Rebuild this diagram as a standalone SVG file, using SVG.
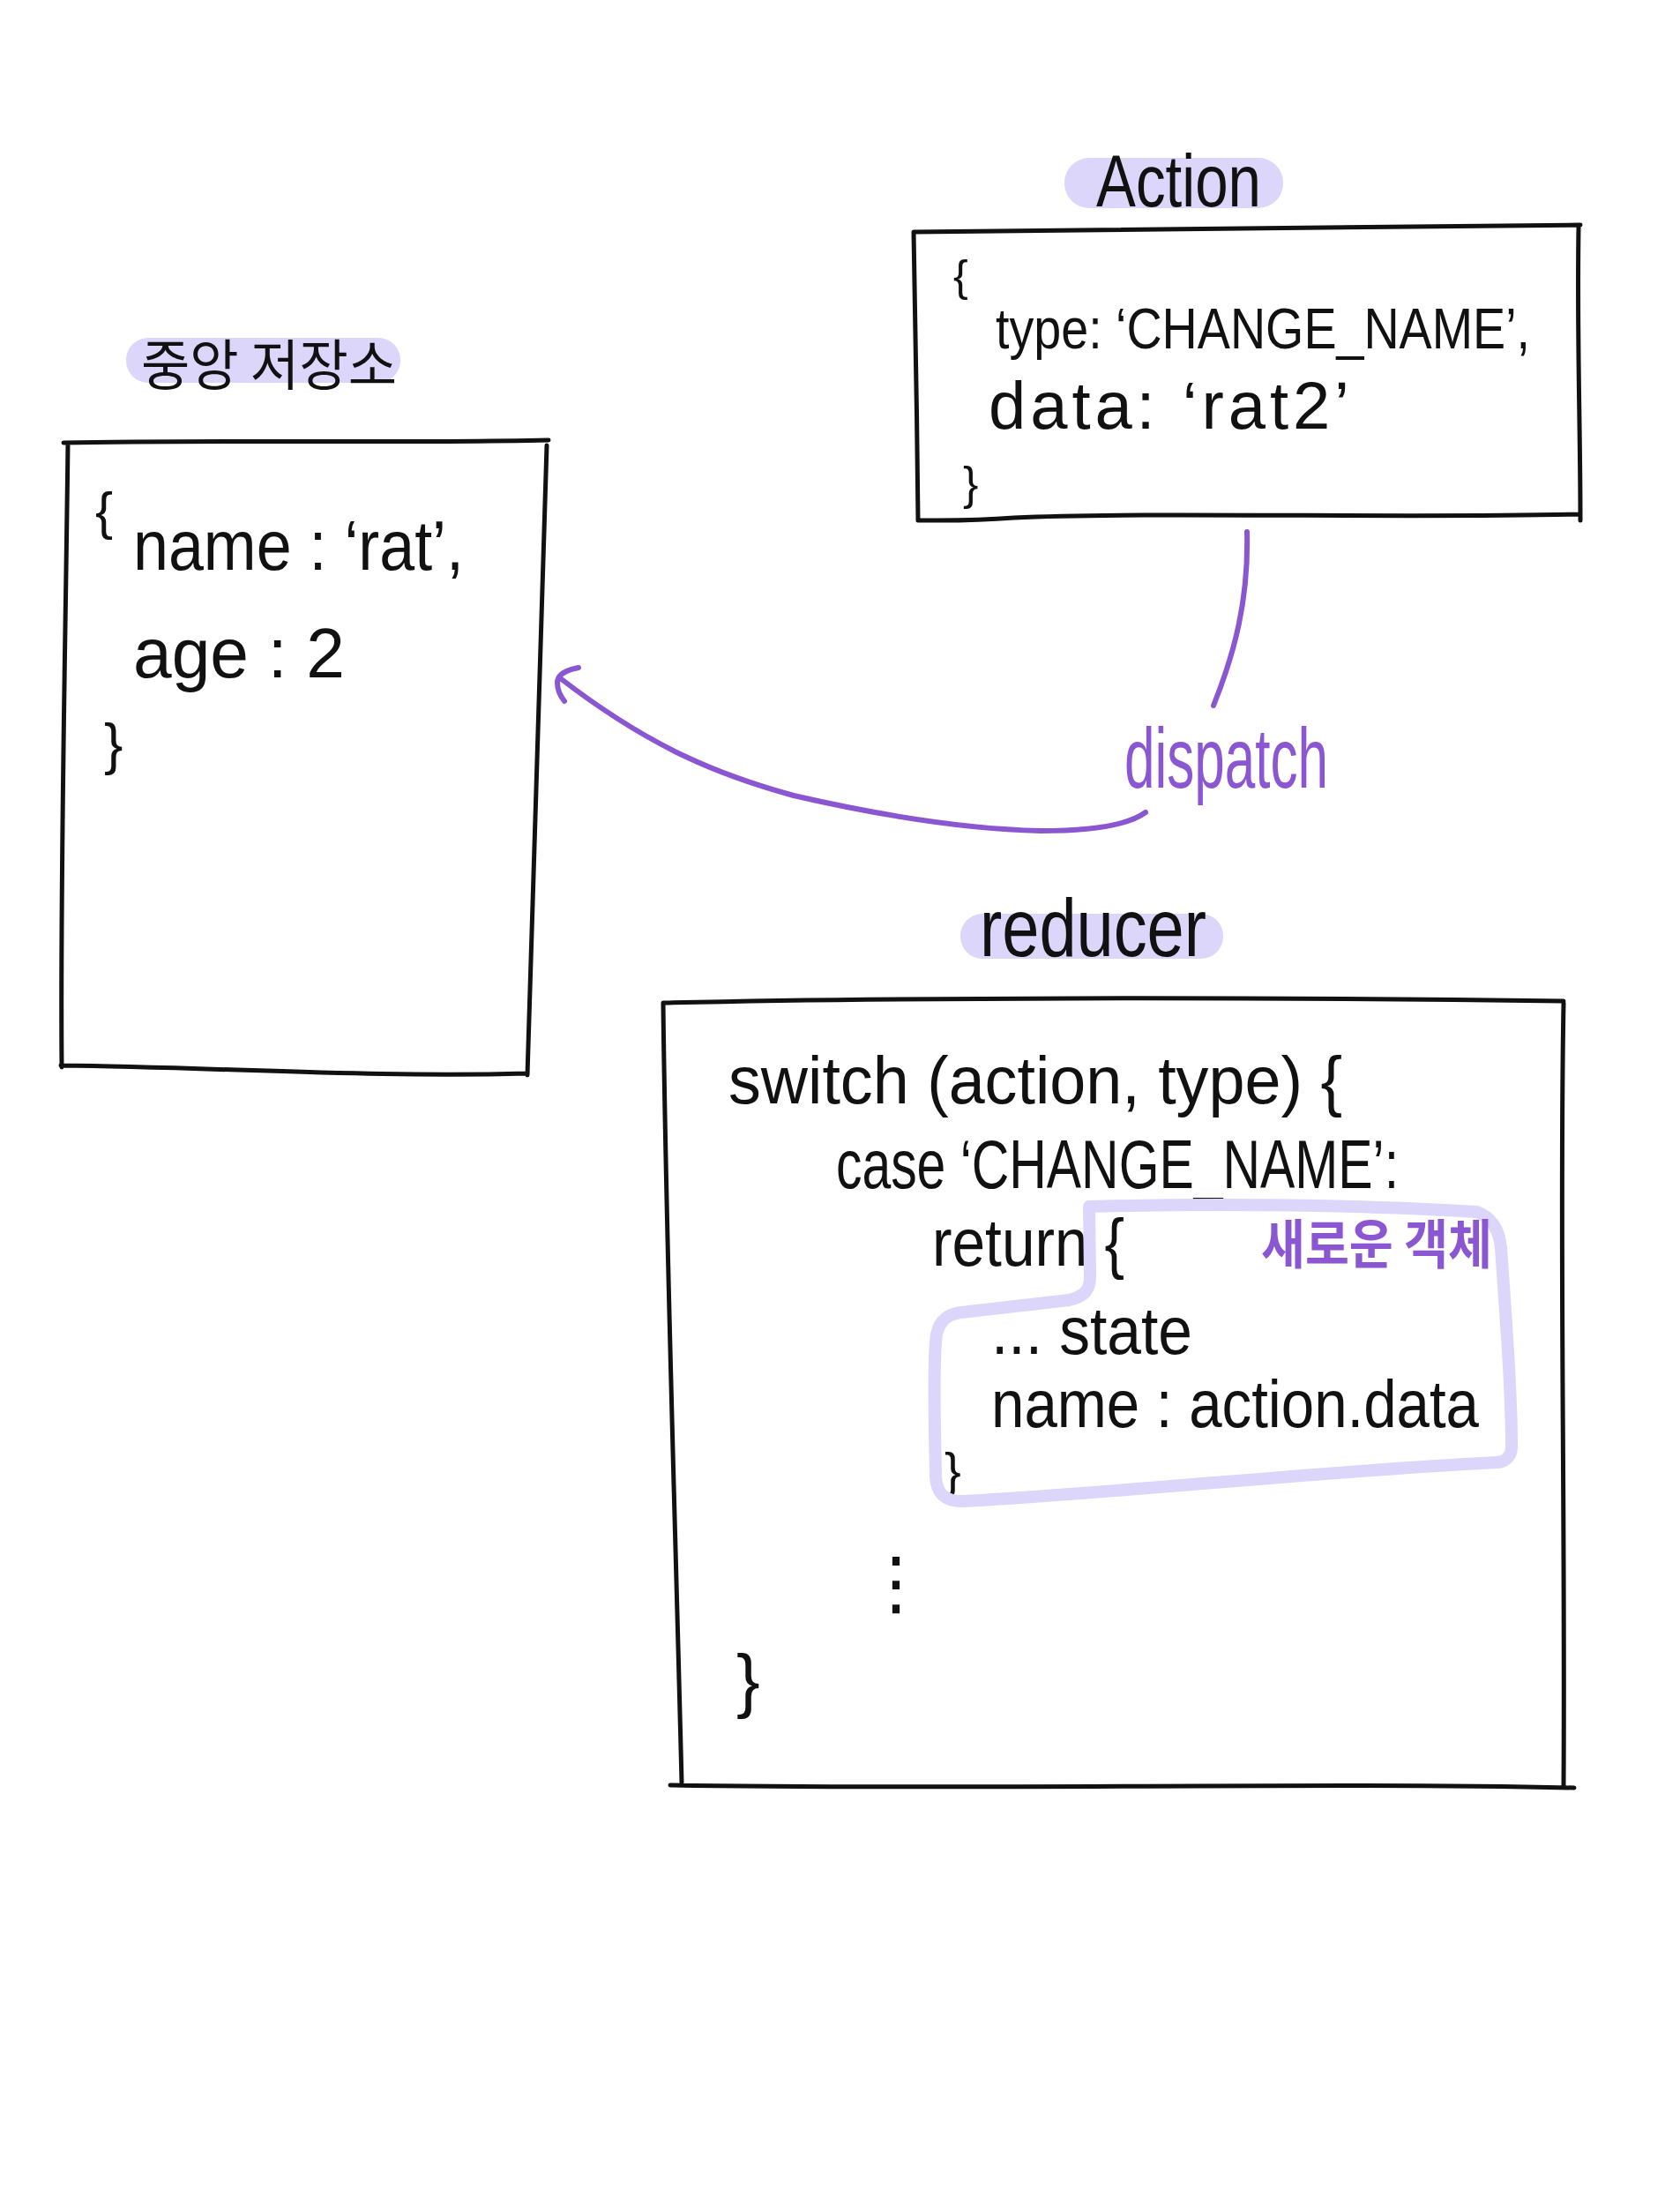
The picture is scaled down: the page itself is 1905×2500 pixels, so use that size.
<svg xmlns="http://www.w3.org/2000/svg" width="1905" height="2500" viewBox="0 0 1905 2500">
<style>
.box{fill:none;stroke:#111;stroke-width:5;stroke-linecap:round;stroke-linejoin:round}
.pill{fill:#dcd6fa}
.t{font-family:"Liberation Sans","Noto Sans CJK KR",sans-serif;fill:#111}
.k{font-family:"Noto Sans CJK KR",sans-serif;fill:#111}
.p{fill:#8a56d1}
.conn{fill:none;stroke:#8a56d1;stroke-width:6;stroke-linecap:round;stroke-linejoin:round}
.hl{fill:none;stroke:#dcd6fa;stroke-width:14;stroke-linecap:round;stroke-linejoin:round}
</style>
<rect width="1905" height="2500" fill="#fff"/>

<g id="store">
  <rect class="pill" x="143" y="383" width="311" height="51" rx="25"/>
  <text class="k" x="160" y="437" font-size="62" textLength="290" lengthAdjust="spacingAndGlyphs">중앙 저장소</text>
  <path class="box" d="M72 502 C 250 498, 450 503, 622 499 M620 505 C 612 700, 608 950, 598 1219 M598 1217 C 420 1222, 250 1210, 69 1208 M70 1210 C 68 1000, 74 750, 77 502"/>
  <text class="t" x="108" y="600" font-size="60">{</text>
  <text class="t" x="151" y="646" font-size="80" textLength="375" lengthAdjust="spacingAndGlyphs">name : ‘rat’,</text>
  <text class="t" x="151" y="768" font-size="80" textLength="240" lengthAdjust="spacingAndGlyphs">age : 2</text>
  <text class="t" x="118" y="866" font-size="64">}</text>
</g>

<g id="action">
  <rect class="pill" x="1207" y="179" width="248" height="57" rx="28"/>
  <text class="t" x="1243" y="234" font-size="84" textLength="187" lengthAdjust="spacingAndGlyphs">Action</text>
  <path class="box" d="M1036 263 C 1300 258, 1550 256, 1792 255 M1790 258 C 1788 380, 1792 480, 1792 590 M1792 583 C 1600 588, 1300 580, 1150 587 C 1100 591, 1070 590, 1041 590 M1041 590 C 1040 480, 1038 380, 1036 263"/>
  <text class="t" x="1081" y="330" font-size="50">{</text>
  <text class="t" x="1129" y="395" font-size="64" textLength="606" lengthAdjust="spacingAndGlyphs">type: ‘CHANGE_NAME’,</text>
  <text class="t" x="1121" y="486" font-size="76" textLength="409" lengthAdjust="spacing">data: ‘rat2’</text>
  <text class="t" x="1092" y="566" font-size="52">}</text>
</g>

<g id="reducer">
  <rect class="pill" x="1089" y="1036" width="298" height="51" rx="25"/>
  <text class="t" x="1111" y="1084" font-size="92" textLength="257" lengthAdjust="spacingAndGlyphs">reducer</text>
  <path class="box" d="M752 1137 C 1000 1131, 1400 1130, 1773 1135 M1773 1137 C 1768 1400, 1775 1700, 1773 2025 M1785 2027 C 1500 2020, 1100 2030, 760 2024 M773 2021 C 765 1700, 755 1400, 752 1137"/>
  <text class="t" x="826" y="1251" font-size="76" textLength="696" lengthAdjust="spacingAndGlyphs">switch (action, type) {</text>
  <text class="t" x="948" y="1347" font-size="78" textLength="638" lengthAdjust="spacingAndGlyphs">case ‘CHANGE_NAME’:</text>
  <text class="t" x="1057" y="1435" font-size="76" textLength="218" lengthAdjust="spacingAndGlyphs">return {</text>
  <text class="t" x="1124" y="1535" font-size="76" textLength="228" lengthAdjust="spacingAndGlyphs">... state</text>
  <text class="t" x="1124" y="1618" font-size="76" textLength="553" lengthAdjust="spacingAndGlyphs">name : action.data</text>
  <text class="t" x="1071" y="1686" font-size="56">}</text>
  <text x="976" y="1822" font-size="80" font-family="DejaVu Sans, sans-serif" fill="#111">⋮</text>
  <text class="t" x="835" y="1932" font-size="80">}</text>
</g>

<g id="new-object">
  <path class="hl" d="M1235 1368 C 1380 1364, 1550 1366, 1674 1374 C 1692 1380, 1700 1395, 1702 1415 C 1708 1500, 1714 1580, 1714 1640 C 1714 1652, 1706 1658, 1696 1658 C 1500 1668, 1300 1690, 1094 1702 C 1072 1703, 1062 1694, 1061 1674 C 1060 1620, 1058 1560, 1061 1522 C 1062 1500, 1072 1490, 1090 1488 C 1140 1482, 1180 1478, 1212 1474 C 1230 1470, 1236 1462, 1236 1448 L 1235 1368"/>
  <text class="k p" x="1430" y="1433" font-size="60" font-weight="bold" textLength="262" lengthAdjust="spacingAndGlyphs">새로운 객체</text>
</g>

<g id="connectors">
  <path class="conn" d="M1414 603 C 1416 680, 1400 740, 1376 800"/>
  <path class="conn" d="M1299 921 C 1280 935, 1240 942, 1180 942 C 1100 940, 1000 925, 900 902 C 820 880, 740 850, 634 768"/>
  <path class="conn" d="M656 757 C 640 760, 632 766, 632 774 C 632 782, 636 790, 640 795"/>
  <text class="t p" x="1275" y="893" font-size="96" textLength="231" lengthAdjust="spacingAndGlyphs">dispatch</text>
</g>
</svg>
